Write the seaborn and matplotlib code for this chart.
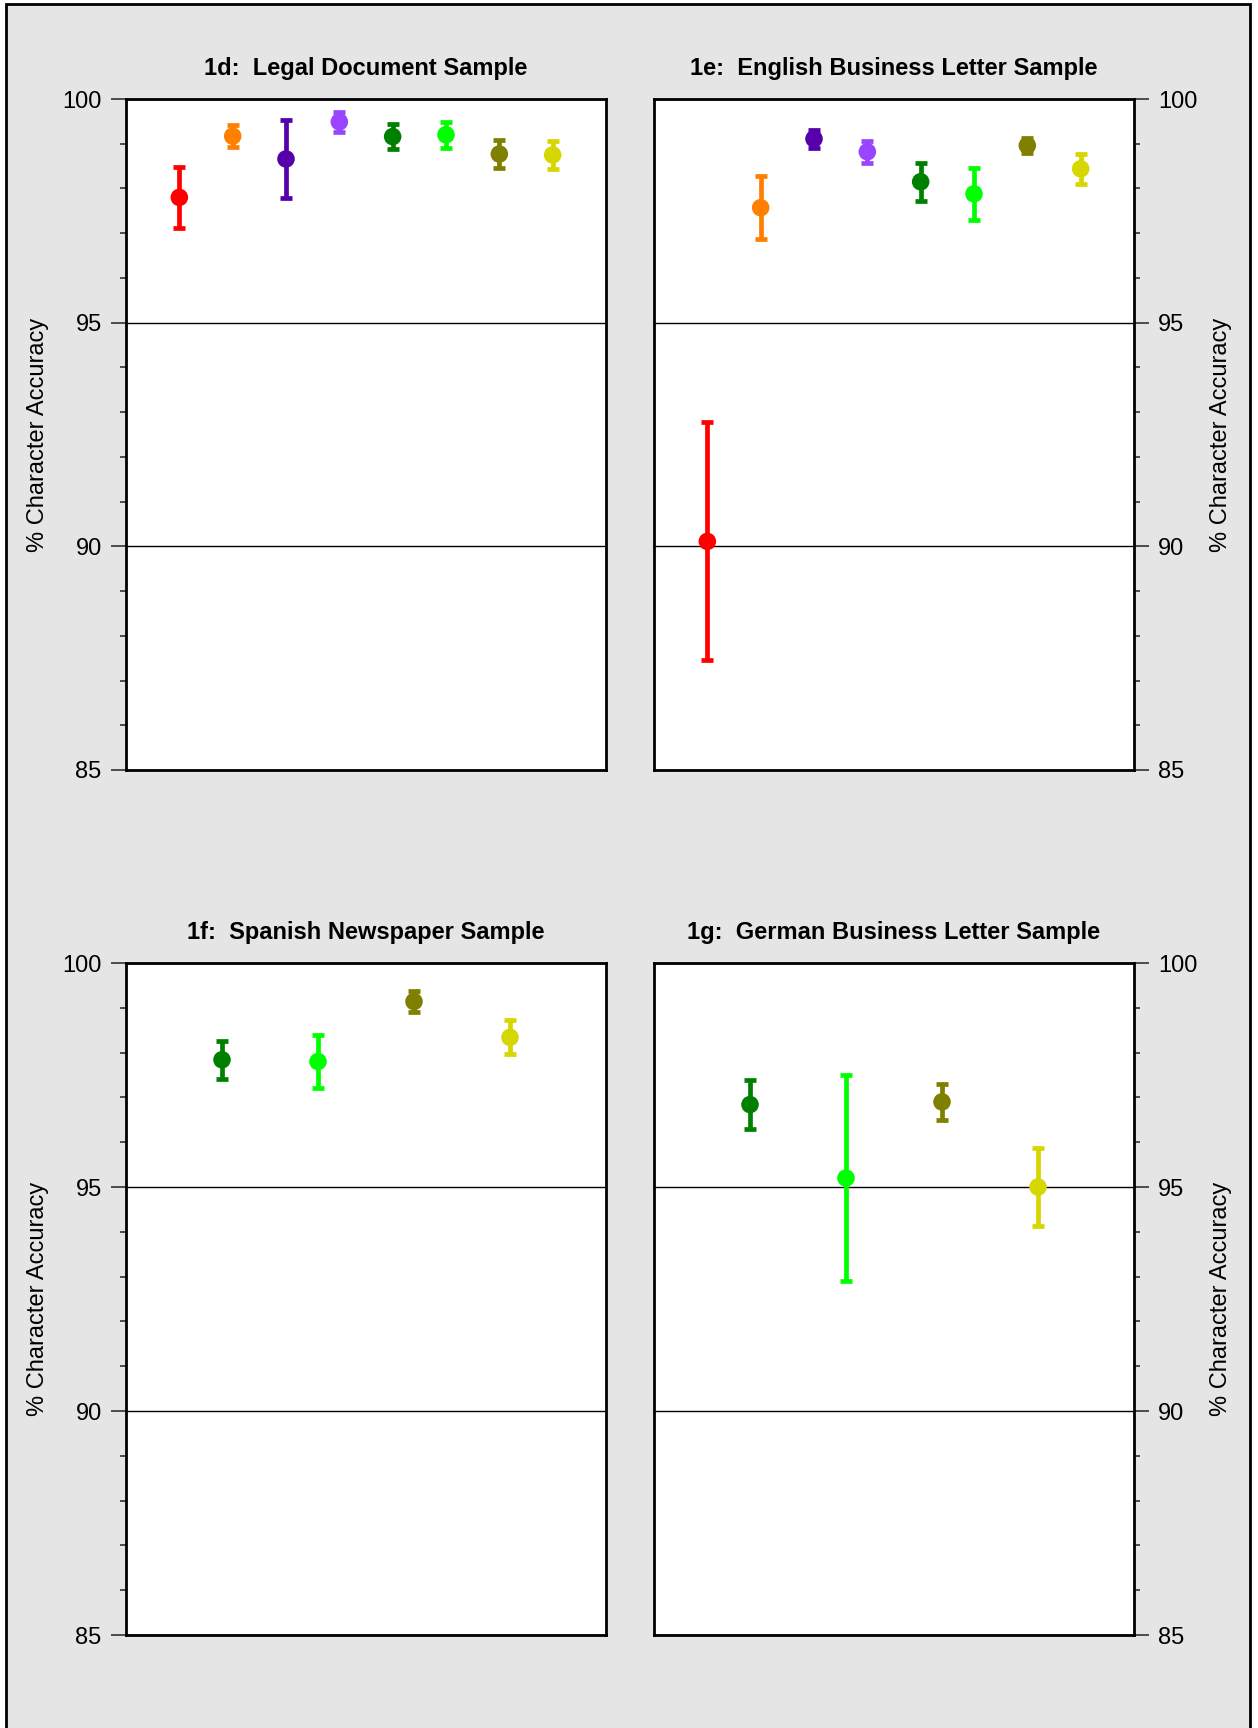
import pandas as pd
import seaborn as sns
import matplotlib.pyplot as plt
from matplotlib.ticker import MultipleLocator
from matplotlib.patches import Rectangle

titles = ['1d:  Legal Document Sample', '1e:  English Business Letter Sample',
          '1f:  Spanish Newspaper Sample', '1g:  German Business Letter Sample']
ylabel = '% Character Accuracy'

colors_8 = ['#ff0000', '#ff8000', '#5500aa', '#9945ff', '#008000', '#00ff00', '#808000', '#d6d600']
colors_4 = colors_8[4:]

legal_mean = [97.80, 99.17, 98.66, 99.49, 99.16, 99.20, 98.77, 98.75]
legal_err = [0.68, 0.25, 0.87, 0.22, 0.28, 0.29, 0.31, 0.31]
english_mean = [90.11, 97.57, 99.11, 98.82, 98.15, 97.88, 98.96, 98.44]
english_err = [2.66, 0.71, 0.20, 0.24, 0.42, 0.58, 0.17, 0.33]
spanish_mean = [97.84, 97.80, 99.14, 98.34]
spanish_err = [0.43, 0.60, 0.23, 0.38]
german_mean = [96.84, 95.20, 96.90, 95.00]
german_err = [0.55, 2.30, 0.41, 0.88]

panels = [
    (legal_mean, legal_err, colors_8),
    (english_mean, english_err, colors_8),
    (spanish_mean, spanish_err, colors_4),
    (german_mean, german_err, colors_4),
]

sns.set_style('white')
plt.rcParams['font.family'] = ['Liberation Sans', 'DejaVu Sans']
plt.rcParams['text.color'] = 'black'
plt.rcParams['axes.titlecolor'] = 'black'
plt.rcParams['ytick.labelcolor'] = 'black'

W, H = 1258, 1728
fig = plt.figure(figsize=(W / 100, H / 100), dpi=100, facecolor='white')
fig.patches.append(Rectangle((6 / W, -0.01), (1250 - 6) / W, 1.01 - 4 / H,
                             transform=fig.transFigure, facecolor='#e5e5e5',
                             edgecolor='black', linewidth=2, zorder=-10))

# axes boxes in pixels: left, top, right, bottom
boxes = [(126, 99, 606, 770), (654, 99, 1134, 770),
         (126, 963, 606, 1635), (654, 963, 1134, 1635)]

for i, ((mean, err, cols), title, box) in enumerate(zip(panels, titles, boxes)):
    l, t, r, b = box
    ax = fig.add_axes([l / W, 1 - b / H, (r - l) / W, (b - t) / H])
    ax.set_facecolor('white')
    n = len(mean)
    df = pd.DataFrame({'pos': range(1, n + 1), 'mean': mean, 'err': err,
                       'grp': [str(k) for k in range(n)]})
    for k, row in df.iterrows():
        ax.errorbar(row['pos'], row['mean'], yerr=row['err'], fmt='none',
                    ecolor=cols[k], elinewidth=3.4, capsize=4, capthick=3.4, zorder=3)
    sns.scatterplot(data=df, x='pos', y='mean', hue='grp', palette=cols, s=160,
                    linewidth=0, legend=False, ax=ax, zorder=4)
    ax.set_xlim(0, n + 1)
    ax.set_ylim(85, 100)
    ax.set_xticks([])
    ax.set_xlabel('')
    ax.set_ylabel('')
    ax.yaxis.set_major_locator(MultipleLocator(5))
    ax.yaxis.set_minor_locator(MultipleLocator(1))
    ax.grid(axis='y', which='major', color='black', linewidth=1)
    ax.set_axisbelow(True)
    for s in ax.spines.values():
        s.set_color('black')
        s.set_linewidth(2)
    ax.tick_params(axis='y', which='major', length=11, width=1.2, color='#333333',
                   labelsize=17, labelcolor='black', pad=6.5, left=True)
    ax.tick_params(axis='y', which='minor', length=4.5, width=1.2, color='#333333', left=True)
    ax.set_title(title, fontsize=17, fontweight='bold', pad=17, color='black')
    if i % 2 == 1:
        ax.yaxis.tick_right()
        ax.tick_params(axis='y', which='both', right=True, left=False)
        ax.text((1221 - l) / (r - l), 0.5, ylabel, transform=ax.transAxes, rotation=90,
                ha='center', va='center', fontsize=17, color='black')
    else:
        ax.text((38.5 - l) / (r - l), 0.5, ylabel, transform=ax.transAxes, rotation=90,
                ha='center', va='center', fontsize=17, color='black')

fig.savefig('out.png', dpi=100, facecolor=fig.get_facecolor())
